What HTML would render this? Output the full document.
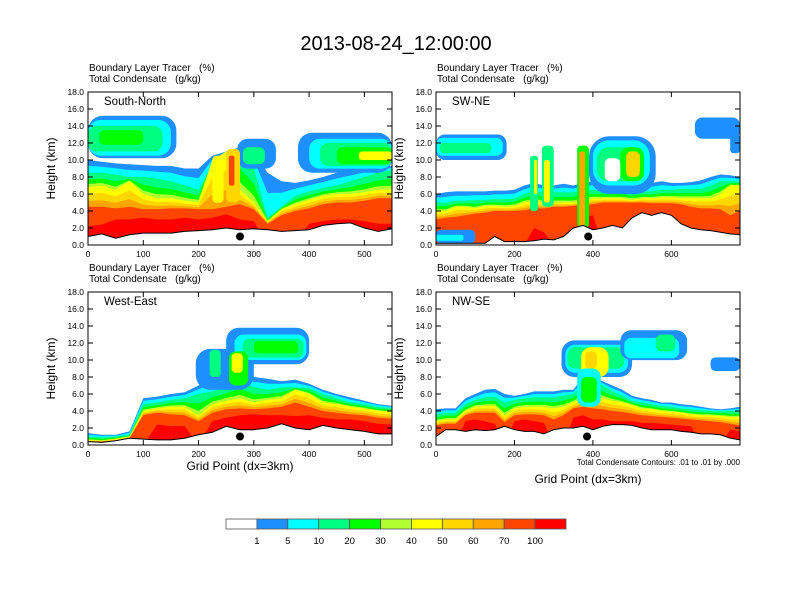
<!DOCTYPE html>
<html><head><meta charset="utf-8">
<style>
body{margin:0;background:#fff;}
svg{display:block;font-family:"Liberation Sans",sans-serif;}
text{white-space:pre;}
</style></head>
<body>
<svg id="fig" width="792" height="612" viewBox="0 0 792 612">
<text x="396" y="50" font-size="20" text-anchor="middle">2013-08-24_12:00:00</text>
<g id="panels"></g>
<g id="colorbar"></g>
</svg>
<script>
// ---------- data ----------
const levelColors = ["#ffffff","#1e8fff","#00ffff","#00ff80","#00ff00","#b0ff30","#ffff00","#ffd700","#ffa500","#ff4500","#ff0000"];
const cbLabels = ["1","5","10","20","30","40","50","60","70","100"];
const yTicks = [0,2,4,6,8,10,12,14,16,18];

// Panel 1: South-North
const p1Terrain = [1.0,1.3,0.8,1.2,1.4,1.4,1.4,1.6,1.7,1.8,2.0,1.8,1.9,1.8,1.6,1.7,1.8,2.3,2.5,2.6,2.0,1.6,1.9];
const p1L1  = [10,9.8,9.6,9.5,9.4,9.3,9.3,9.0,9.0,10.5,11,11.5,11,8.5,7.5,7.3,7.6,8.0,8.5,8.7,9,9.2,9.3];
const p1L10 = [8.5,8.5,8.3,8.0,8.0,7.8,7.5,7,6.5,9.5,10.5,11,9,3.2,4.5,5.8,6.3,6.7,7,7.5,8,8.5,8.8];
const p1L40 = [6.8,7,6.5,7.5,6,5.5,5.5,5.2,5,10,11,6.5,5,2.8,4.2,4.8,5.3,5.8,6,6,6.2,6.5,6.5];
const p1L70 = [4.5,4.5,4.3,4.5,4.2,4.2,4.3,4.3,4.2,4.2,4.5,4.8,4.2,2.5,3.5,4,4.3,4.8,5,5,5.2,5.5,5.5];
const p1L100= [2.2,2.4,3,3,3.2,3,3,3.2,3,3.2,3.6,3,2.8,0,0,0,2.5,2.8,3,3,2.8,2.5,2.5];
const p1AnvX0 = [0,0,0,20,380,400,420,450,490,270,280,385,225,250,255];
const p1AnvX1 = [160,150,135,100,550,550,550,550,550,340,320,400,245,275,265];
const p1AnvB  = [10.2,10.5,11,11.8,8.5,9,9.3,9.5,10,9,9.5,9,5,5,7];
const p1AnvT  = [15.2,14.7,14,13.5,13.2,12.5,12,11.5,11,12.5,11.5,11,10.5,11.3,10.5];
const p1AnvL  = [1,2,3,4,1,2,3,4,6,1,3,1,6,7,9];

// Panel 2: SW-NE
const p2Terrain = [0.2,0.2,0.2,0.2,0.2,0.2,1.0,0.4,0.4,0.4,0.5,0.7,0.6,1.0,2.0,2.3,1.8,2.0,2.3,2.0,3.2,3.8,3.5,3.8,3.5,2.5,2.0,1.8,1.7,1.5,1.3,1.2];
const p2L1  = [6,6.2,6.3,6.3,6.3,6.3,6.4,6.4,6.5,7,7.3,7,7,7.2,7,7.3,7.5,7.3,7.3,7.3,7,7,7.3,7.5,7.3,7.3,7.4,7.6,8,8.3,8.2,8];
const p2L10 = [5,5,5.2,5.2,5.3,5.3,5.4,5.4,5.5,6,6.3,6.2,6.2,6.2,6.2,6.4,6.5,6.4,6.4,6.4,6.2,6.3,6.3,6.5,6.5,6.6,6.6,6.6,7,7.5,7.5,7.5];
const p2L40 = [4,4,4.5,4.5,4.3,4.6,4.6,4.5,4.6,5,5.2,5,5,5,5,5.3,5.5,5.5,5.5,5.5,5.3,5.5,5.5,5.6,5.6,5.5,5.5,5.5,5.5,6,7,7];
const p2L70 = [3,3.2,3.3,3.5,3.7,3.8,4,4,4,4.1,4.3,4.3,4.5,4.5,4.6,4.7,4.8,5,5,5,5,5,4.9,4.9,4.9,4.8,4.5,4.3,4.3,4.2,3.5,4];
const p2L100= [0,0,0,0,0,0,0,0,0,0,2,1.5,0,0,0,3.2,3.5,0,0,0,0,0,0,0,0,0,0,0,0,0,0,0];
const p2AnvX0 = [0,0,10,390,400,410,430,470,485,660,750,240,250,270,275,360,365,0,0];
const p2AnvX1 = [180,170,140,560,545,530,470,530,520,775,775,260,258,300,290,390,380,100,70];
const p2AnvB  = [10,10.5,10.8,6,7,7.5,7.5,7.5,8,12.5,10.8,4,6,4.5,5,2,2,0.2,0.5];
const p2AnvT  = [13,12.6,12,12.8,12.3,11.5,10.2,11.5,11,15,13,10.5,10,11.7,10,11.7,11,1.8,1.2];
const p2AnvL  = [1,2,3,1,2,3,0,4,7,1,1,3,6,3,6,4,8,1,2];

// Panel 3: West-East
const p3Terrain = [0.4,0.3,0.5,0.8,0.7,0.6,0.6,0.8,1.2,1.5,2.2,1.8,1.8,2.0,2.5,2.0,1.8,2.3,2.0,1.8,1.6,1.3,1.3];
const p3L1  = [1.4,1.2,1.2,1.6,5.5,5.7,6,6.2,7,8,8.5,8.5,8,7.8,7.5,7.7,7.2,6.5,6,5.6,5.2,4.8,4.6];
const p3L10 = [1.0,0.9,1.0,1.2,4.8,5,5.3,5.5,6,6.3,6.8,7.5,6.8,6.5,6.8,6.8,6.7,6,5.5,5,4.8,4.5,4.3];
const p3L40 = [0.6,0.5,0.7,1,4,4.3,4.5,4.5,3.5,4.8,5.2,5.5,5,5.3,5.5,6.5,6,5,4.8,4.5,4.3,4,3.9];
const p3L70 = [0.4,0.4,0.5,0.8,3.5,3.8,3.6,3.5,2.8,3.8,4.2,4.3,4.2,4.3,4.5,5,4.5,4,3.8,3.6,3.5,3.2,3.1];
const p3L100= [0,0,0,0,0,2.4,2.2,2.2,0,2.8,3.2,3.5,3.6,3.5,3.5,3.4,3.5,3.2,3,3,2.8,2.5,2.4];
const p3AnvX0 = [195,250,265,280,300,220,255,260];
const p3AnvX1 = [300,400,395,390,380,240,290,280];
const p3AnvB  = [6.5,9.5,10,10.3,10.8,8,7,8.5];
const p3AnvT  = [11.3,13.8,13,12.5,12.2,11.2,11,10.8];
const p3AnvL  = [1,1,2,3,4,3,4,6];

// Panel 4: NW-SE
const p4Terrain = [1.0,1.8,1.8,1.6,1.8,1.7,1.8,2.2,1.8,1.6,1.6,1.3,1.8,2.0,2.0,2.2,1.8,2.2,2.4,2.4,2.3,2.0,1.8,1.8,1.8,1.6,1.5,1.3,1.3,1.2,0.8,0.6];
const p4L1  = [4.2,4.3,4.3,5.5,6,6.5,6.6,6,5.8,6,6.3,6.3,6.3,6.5,6.5,8,8,7.5,7,6.5,5.8,5.5,5.3,5,5,4.8,4.7,4.5,4.3,4.2,4.3,4.5];
const p4L10 = [3.6,3.8,3.8,4.8,5.3,5.6,5.7,5,5.3,5.5,5.6,5.6,5.6,5.8,6,7,7.5,7,6.3,5.8,5.2,5,4.8,4.6,4.5,4.3,4.2,4.1,4,4,4,4];
const p4L40 = [2.8,3,3,4,4.5,4.6,4.6,3.5,4.3,4.5,4.5,4.5,4.3,4.5,5,5.5,5.8,5.5,5.2,5,4.7,4.3,4.2,4,3.9,3.8,3.6,3.5,3.5,3.4,3.3,3.3];
const p4L70 = [2.3,2.5,2.5,3.5,3.8,3.8,3.8,2.7,3.5,3.6,3.6,3.5,3,3.5,4.3,4.5,4.3,4.2,4,3.9,3.7,3.5,3.4,3.3,3.2,3.1,3,2.9,2.8,2.7,2.5,2.3];
const p4L100= [0,0,0,2.8,3,2.8,2.5,0,2.8,3,2.8,2.6,0,0,3.2,3.5,3,3,2.8,2.8,2.8,2.6,2.6,2.5,2.4,2.3,2.2,0,0,0,1.8,1.6];
const p4AnvX0 = [320,330,335,370,380,470,480,560,700,360,370];
const p4AnvX1 = [500,490,480,440,410,640,620,610,775,420,410];
const p4AnvB  = [8,8.5,9,8,9,10,10.2,11,8.7,4.5,5];
const p4AnvT  = [12.3,11.8,11.5,11.5,11,13.5,12.6,13,10.3,9,8];
const p4AnvL  = [1,2,3,6,7,1,2,3,1,2,4];

const panels = [
 {name:"South-North", x0:88, y0:92, xmax:550, xticks:[0,100,200,300,400,500], terrain:p1Terrain, L1:p1L1, L10:p1L10, L40:p1L40, L70:p1L70, L100:p1L100, ax0:p1AnvX0, ax1:p1AnvX1, ab:p1AnvB, at:p1AnvT, al:p1AnvL, dot:275, xlabel:false, slug:"south-north"},
 {name:"SW-NE", x0:436, y0:92, xmax:775, xticks:[0,200,400,600], terrain:p2Terrain, L1:p2L1, L10:p2L10, L40:p2L40, L70:p2L70, L100:p2L100, ax0:p2AnvX0, ax1:p2AnvX1, ab:p2AnvB, at:p2AnvT, al:p2AnvL, dot:388, xlabel:false, slug:"sw-ne"},
 {name:"West-East", x0:88, y0:292, xmax:550, xticks:[0,100,200,300,400,500], terrain:p3Terrain, L1:p3L1, L10:p3L10, L40:p3L40, L70:p3L70, L100:p3L100, ax0:p3AnvX0, ax1:p3AnvX1, ab:p3AnvB, at:p3AnvT, al:p3AnvL, dot:275, xlabel:true, slug:"west-east"},
 {name:"NW-SE", x0:436, y0:292, xmax:775, xticks:[0,200,400,600], terrain:p4Terrain, L1:p4L1, L10:p4L10, L40:p4L40, L70:p4L70, L100:p4L100, ax0:p4AnvX0, ax1:p4AnvX1, ab:p4AnvB, at:p4AnvT, al:p4AnvL, dot:385, xlabel:true, slug:"nw-se", note:true}
];
const PW = 304, PH = 153, STEP = 25;
const NS = "http://www.w3.org/2000/svg";
function mk(tag, attrs, parent){ const e=document.createElementNS(NS,tag); for(const k in attrs) e.setAttribute(k,attrs[k]); if(parent) parent.appendChild(e); return e; }

const root = document.getElementById('panels');
panels.forEach((p,pi)=>{
  const sx = v => p.x0 + v/p.xmax*PW;
  const sy = v => p.y0 + PH - v/18*PH;
  const g = mk('g',{},root);
  
  
  const cid='clip'+pi;
  const cp = mk('clipPath',{id:cid},g);
  mk('rect',{x:p.x0,y:p.y0,width:PW,height:PH},cp);
  const plot = mk('g',{'clip-path':'url(#'+cid+')'},g);
  
  
  const xs = p.terrain.map((_,i)=>Math.min(i*STEP,p.xmax));
  function band(arr, color, name){
    let d = 'M'+sx(0)+','+sy(0);
    arr.forEach((h,i)=>{ d+=' L'+sx(xs[i]).toFixed(1)+','+sy(h).toFixed(1); });
    d += ' L'+sx(p.xmax)+','+sy(0)+' Z';
    const e = mk('path',{d:d,fill:color},plot);
    
    
  }
  const mix=(a,b,f)=>a.map((v,i)=>v-(v-b[i])*f);
  band(p.L1, levelColors[1], 'band-1');
  band(mix(p.L1,p.L10,0.45), levelColors[2], 'band-5');
  band(p.L10, levelColors[3], 'band-10');
  band(mix(p.L10,p.L40,0.45), levelColors[4], 'band-20');
  band(mix(p.L10,p.L40,0.8), levelColors[5], 'band-30');
  band(p.L40, levelColors[6], 'band-40');
  band(mix(p.L40,p.L70,0.35), levelColors[7], 'band-50');
  band(mix(p.L40,p.L70,0.7), levelColors[8], 'band-60');
  band(p.L70, levelColors[9], 'band-70');
  band(p.L100, levelColors[10], 'band-100');
  p.ax0.forEach((a,i)=>{
    const x1=sx(a), x2=sx(p.ax1[i]), y1=sy(p.at[i]), y2=sy(p.ab[i]);
    const r=Math.min(x2-x1,y2-y1)*0.35;
    const e=mk('rect',{x:x1.toFixed(1),y:y1.toFixed(1),width:(x2-x1).toFixed(1),height:(y2-y1).toFixed(1),rx:r.toFixed(1),fill:levelColors[p.al[i]]},plot);
    
    
  });
  // terrain mask
  let d='M'+sx(0)+','+sy(0);
  p.terrain.forEach((h,i)=>{ d+=' L'+sx(xs[i]).toFixed(1)+','+sy(h).toFixed(1); });
  d+=' L'+sx(p.xmax)+','+sy(0)+' Z';
  const ter=mk('path',{d:d,fill:'#fff',stroke:'none'},plot);
  
  
  let dl='';
  p.terrain.forEach((h,i)=>{ dl+=(i?' L':'M')+sx(xs[i]).toFixed(1)+','+sy(h).toFixed(1); });
  const tl=mk('path',{d:dl,fill:'none',stroke:'#000','stroke-width':1},plot);
  
  
  const dot=mk('circle',{cx:sx(p.dot),cy:sy(1.0),r:4,fill:'#000'},g);
  
  
  const fr=mk('rect',{x:p.x0,y:p.y0,width:PW,height:PH,fill:'none',stroke:'#000','stroke-width':1},g);
  
  
  yTicks.forEach(t=>{
    const y=sy(t);
    mk('line',{x1:p.x0,x2:p.x0+5,y1:y,y2:y,stroke:'#000'},g);
    mk('line',{x1:p.x0+PW,x2:p.x0+PW-5,y1:y,y2:y,stroke:'#000'},g);
    const tx=mk('text',{x:p.x0-4,y:y+3,'font-size':8.5,'text-anchor':'end'},g);
    tx.textContent=t.toFixed(1);
    
    
  });
  p.xticks.forEach(t=>{
    const x=sx(t);
    mk('line',{x1:x,x2:x,y1:p.y0+PH,y2:p.y0+PH-5,stroke:'#000'},g);
    mk('line',{x1:x,x2:x,y1:p.y0,y2:p.y0+5,stroke:'#000'},g);
    const tx=mk('text',{x:x,y:p.y0+PH+12,'font-size':8.5,'text-anchor':'middle'},g);
    tx.textContent=t;
    
    
  });
  const h1=mk('text',{x:p.x0+1,y:p.y0-21,'font-size':10},g);
  h1.textContent='Boundary Layer Tracer   (%)';
  
  
  const h2=mk('text',{x:p.x0+1,y:p.y0-10,'font-size':10},g);
  h2.textContent='Total Condensate   (g/kg)';
  
  
  const nm=mk('text',{x:p.x0+16,y:p.y0+13,'font-size':11.5},g);
  nm.textContent=p.name;
  
  
  const yl=mk('text',{x:0,y:0,'font-size':12,'text-anchor':'middle',transform:'translate('+(p.x0-33)+','+(p.y0+PH/2)+') rotate(-90)'},g);
  yl.textContent='Height (km)';
  
  
  if(p.xlabel){
    const xl=mk('text',{x:p.x0+PW/2,y:p.note?p.y0+PH+38:p.y0+PH+25,'font-size':12,'text-anchor':'middle'},g);
    xl.textContent='Grid Point (dx=3km)';
    
    
  }
  if(p.note){
    const nt=mk('text',{x:p.x0+PW,y:p.y0+PH+20,'font-size':8,'text-anchor':'end'},g);
    nt.textContent='Total Condensate Contours: .01 to .01 by .000';
    
    
  }
});
// colorbar
const cb=document.getElementById('colorbar');
const cbx0=226, cbw=340/levelColors.length, cby=519, cbh=10;
levelColors.forEach((c,i)=>{
  const r=mk('rect',{x:cbx0+i*cbw,y:cby,width:cbw,height:cbh,fill:c,stroke:'#555','stroke-width':0.8},cb);
  
  
});
cbLabels.forEach((l,i)=>{
  const t=mk('text',{x:cbx0+(i+1)*cbw,y:544,'font-size':9.5,'text-anchor':'middle'},cb);
  t.textContent=l;
  
  
});
</script>
</body></html>
